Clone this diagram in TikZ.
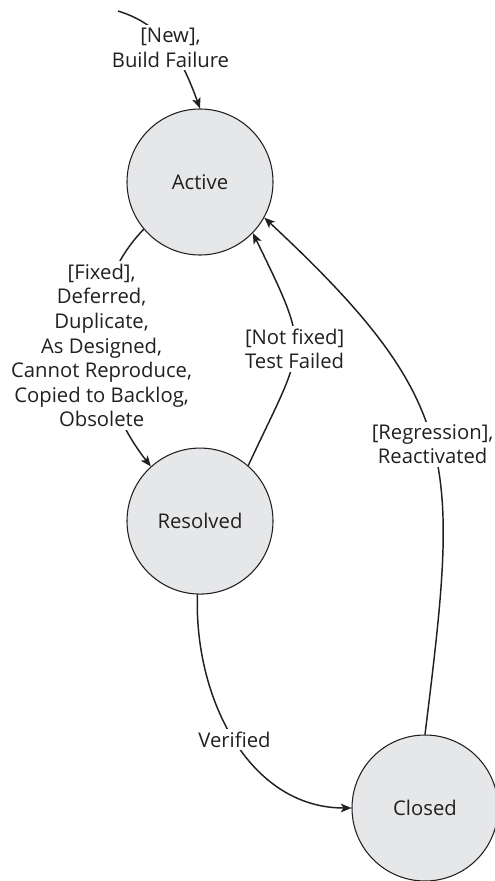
\documentclass[tikz,border=0pt]{standalone}
\usepackage{fontspec}
\setmainfont{Open Sans}
\usetikzlibrary{positioning,arrows.meta}
\definecolor{statefill}{RGB}{230,231,232}
\definecolor{ink}{RGB}{35,31,32}

\begin{document}
\begin{tikzpicture}[
  x=0.75pt, y=0.75pt,
  font=\fontsize{15.2}{18.4}\selectfont, color=ink,
  circ/.style={draw=ink, circle, fill=statefill, line width=0.8pt, minimum size=109.5pt, inner sep=0pt},
  arr/.style={-{Stealth[length=8pt, width=6.5pt, inset=2pt]}, line width=1.1pt},
  lab/.style={fill=white, align=center, inner sep=2pt}]
\useasboundingbox (0,0) rectangle (494,-881);
% --- states
\node[circ] (active) at (200,-182) {Active};
\node[circ, below=144pt of active] (resolved) {Resolved};
\node[circ] (closed) at (425,-808) {Closed};
\coordinate (start) at (118,-11);
% --- transitions
\draw[arr] (start) to[out=-17, in=110] node[lab] {[New],\\Build Failure} (active.north);
\draw[arr] (active.220) to[out=226, in=128] node[lab] {[Fixed],\\Deferred,\\Duplicate,\\As Designed,\\Cannot Reproduce,\\Copied to Backlog,\\Obsolete} (resolved.132);
\draw[arr] (resolved.49) to[out=65, in=-64, looseness=1.5] node[lab] {[Not fixed]\\Test Failed} (active.-44);
\draw[arr] (closed.90) to[out=83, in=-43, looseness=1.3] node[lab] {[Regression],\\Reactivated} (active.-29);
\draw[arr] (resolved.-92) to[out=-92, in=180] node[lab] {Verified} (closed.west);
\end{tikzpicture}
\end{document}
